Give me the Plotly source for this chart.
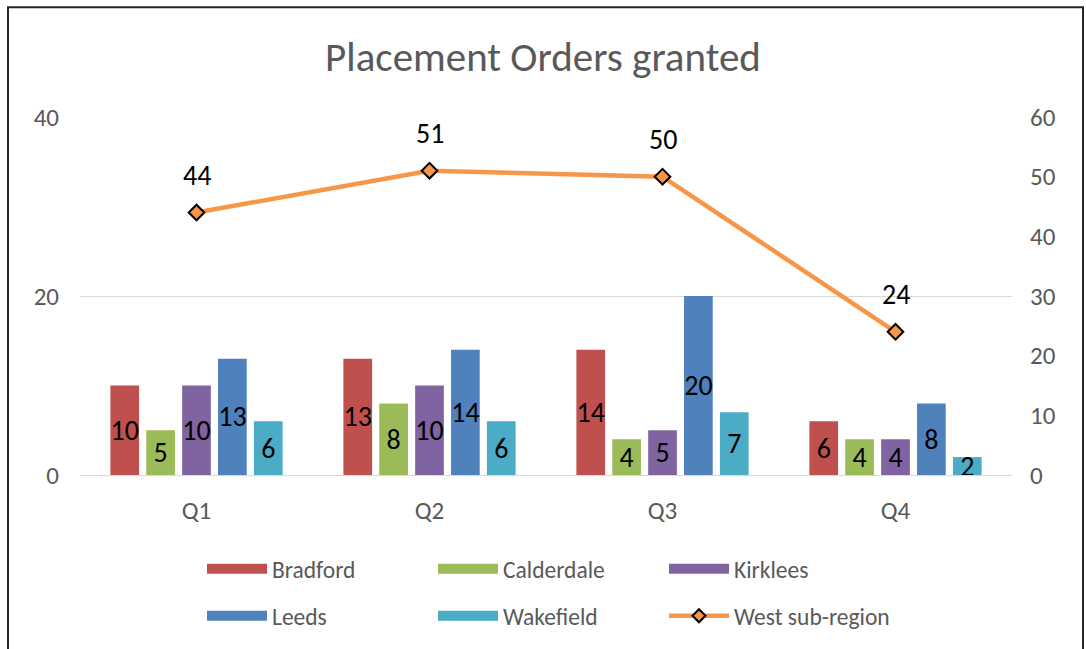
import plotly.graph_objects as go

quarters = ["Q1", "Q2", "Q3", "Q4"]
bradford = [10, 13, 14, 6]
calderdale = [5, 8, 4, 4]
kirklees = [10, 10, 5, 4]
leeds = [13, 14, 20, 8]
wakefield = [6, 6, 7, 2]
west = [44, 51, 50, 24]

series = [
    ("Bradford", bradford, "#C0504D"),
    ("Calderdale", calderdale, "#9BBB59"),
    ("Kirklees", kirklees, "#8064A2"),
    ("Leeds", leeds, "#4F81BD"),
    ("Wakefield", wakefield, "#4BACC6"),
]
line_color = "#F79646"
FONT = "Carlito, Lato, sans-serif"
GREY = "#595959"

W, H = 1086, 649
ML, MR, MT, MB = 80, 74, 117, 173
PW, PH = W - ML - MR, H - MT - MB

def px(x):
    return (x - ML) / PW

def py(y):
    return (H - MB - y) / PH

fig = go.Figure()
for name, vals, col in series:
    fig.add_trace(go.Bar(
        x=quarters, y=vals, name=name, marker=dict(color=col, line=dict(width=0)),
        text=[str(v) for v in vals], textposition="inside", insidetextanchor="middle",
        constraintext="none", textangle=0,
        textfont=dict(family=FONT, size=28, color="#000000"),
        showlegend=False, hoverinfo="skip",
    ))

fig.add_trace(go.Scatter(
    x=quarters, y=west, name="West sub-region", yaxis="y2", mode="lines+markers",
    line=dict(color=line_color, width=4.5),
    marker=dict(symbol="diamond", size=12, color=line_color, line=dict(color="#000000", width=2)),
    showlegend=False, hoverinfo="skip",
))

for q, v in zip(quarters, west):
    fig.add_annotation(x=q, y=v, xref="x", yref="y2", text=str(v), showarrow=False,
                       yshift=37, font=dict(family=FONT, size=28, color="#000000"))

# legend entries
for i, (name, vals, col) in enumerate(series):
    fig.add_trace(go.Scatter(
        x=[None], y=[None], name=name, mode="lines",
        line=dict(color=col, width=12),
        legend="legend" if i < 3 else "legend2",
    ))
fig.add_trace(go.Scatter(
    x=[None], y=[None], name="West sub-region", mode="lines+markers",
    line=dict(color=line_color, width=4.5),
    marker=dict(symbol="diamond", size=10, color=line_color, line=dict(color="#000000", width=2)),
    legend="legend2",
))

legend_common = dict(
    orientation="h", xanchor="left", yanchor="middle", x=px(202),
    font=dict(family=FONT, size=23.5, color=GREY),
    entrywidth=156, entrywidthmode="pixels", itemwidth=60,
    bgcolor="rgba(0,0,0,0)", tracegroupgap=0,
)

fig.update_layout(
    width=W, height=H,
    margin=dict(l=ML, r=MR, t=MT, b=MB),
    paper_bgcolor="#FFFFFF", plot_bgcolor="#FFFFFF",
    title=dict(text="Placement Orders granted", x=0.5, xanchor="center",
               y=1 - 57 / H, yanchor="middle",
               font=dict(family=FONT, size=41, color=GREY)),
    barmode="group", bargap=0.23, bargroupgap=0.2,
    xaxis=dict(showgrid=False, showline=False, zeroline=False, ticks="",
               tickfont=dict(family=FONT, size=25, color=GREY), ticklabelstandoff=18),
    yaxis=dict(range=[0, 40], dtick=20, showgrid=True, gridcolor="#D9D9D9", gridwidth=1.3,
               zeroline=True, zerolinecolor="#D9D9D9", zerolinewidth=1.3,
               showline=False, ticks="",
               tickfont=dict(family=FONT, size=25, color=GREY), ticklabelstandoff=20),
    yaxis2=dict(range=[0, 60], dtick=10, overlaying="y", side="right", showgrid=False,
                zeroline=False, showline=False, ticks="",
                tickfont=dict(family=FONT, size=25, color=GREY), ticklabelstandoff=17),
    legend=dict(legend_common, y=py(569)),
    legend2=dict(legend_common, y=py(616)),
    showlegend=True,
)

fig.add_shape(type="rect", xref="paper", yref="paper",
              x0=px(8), x1=px(1083), y0=py(660), y1=py(7),
              line=dict(color="#262626", width=2), fillcolor="rgba(0,0,0,0)", layer="above")

fig.write_html("out.html", config={"displayModeBar": False},
               post_script="document.body.style.margin='0';document.body.style.padding='0';")
